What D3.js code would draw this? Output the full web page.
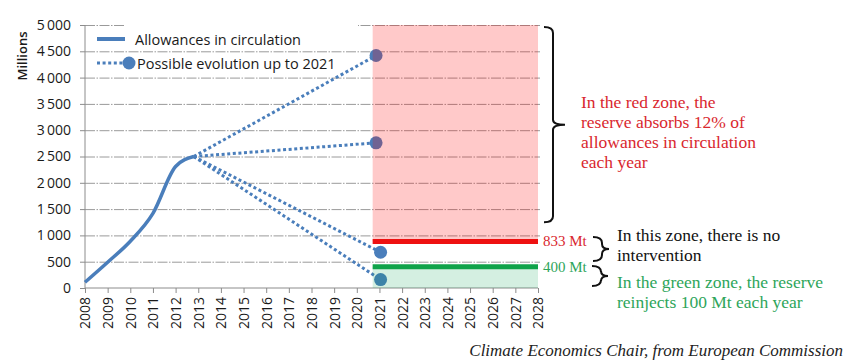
<!DOCTYPE html>
<html>
<head>
<meta charset="utf-8">
<script src="https://cdn.jsdelivr.net/npm/d3@7"></script>
<style>
  body { margin: 0; background: #fff; }
  .axis path, .axis line { stroke: #8c8c8c; }
  .axis text { font-family: "Open Sans", sans-serif; font-size: 14px; fill: #1a1a1a; }
  .grid line { stroke: #9a9a9a; stroke-dasharray: 10,1.5,1.5,1.5; }
  .grid path { display: none; }
  .note { font-family: "Liberation Serif", serif; }
</style>
</head>
<body>
<script>
// data
var years = [2008, 2009, 2010, 2011, 2012, 2012.8];
var allowances = [110, 490, 890, 1420, 2310, 2500];

var evoStart = [2012.8, 2500];
var evoYears = [2020.85, 2020.85, 2021.05, 2021.05];
var evoValues = [4420, 2760, 680, 160];

var yTicks = [0, 500, 1000, 1500, 2000, 2500, 3000, 3500, 4000, 4500, 5000];
var xTicks = d3.range(2008, 2029);

var zoneStart = 2020.7, zoneEnd = 2028;
var redLevel = 885, greenLevel = 405, topLevel = 5000;

var redLines = ["In the red zone, the", "reserve absorbs 12% of", "allowances in circulation", "each year"];
var midLines = ["In this zone, there is no", "intervention"];
var greenLines = ["In the green zone, the reserve", "reinjects 100 Mt each year"];

var margin = {top: 25, right: 312, bottom: 75, left: 85};
var svg = d3.select("body").append("svg")
            .attr("width", 850)
            .attr("height", 363);
var width = svg.attr("width") - margin.left - margin.right,
    height = svg.attr("height") - margin.top - margin.bottom,
    g = svg.append("g").attr("transform", "translate(" + margin.left + "," + margin.top + ")");

var x = d3.scaleLinear().domain([2008, 2028]).range([0, width]),
    y = d3.scaleLinear().domain([0, 5000]).range([height, 0]);

var fmt = function(d) { return d3.format(",")(d).replace(",", "\u2009"); };

// grid
g.append("g")
    .attr("class", "grid")
    .call(d3.axisLeft(y).tickValues(yTicks.slice(1)).tickSize(-width - 2).tickFormat(""));

// white strip behind legend on the top gridline
g.append("rect")
    .attr("x", 40).attr("y", y(5000) - 2)
    .attr("width", 233).attr("height", 4)
    .attr("fill", "#fff");

// axes
g.append("g")
    .attr("class", "axis axis--y")
    .call(d3.axisLeft(y).tickValues(yTicks).tickSize(5).tickPadding(9).tickFormat(fmt))
    .call(function(a) { a.select(".domain").attr("d", "M0," + y(5000) + "V" + y(0)); });

g.append("g")
    .attr("class", "axis axis--x")
    .attr("transform", "translate(0," + height + ")")
    .call(d3.axisBottom(x).tickValues(xTicks).tickSize(5).tickFormat(d3.format("d")))
    .call(function(a) { a.select(".domain").attr("d", "M0,0H" + width); })
  .selectAll("text")
    .attr("transform", "rotate(-90)")
    .attr("text-anchor", "end")
    .attr("x", -9)
    .attr("y", 0)
    .attr("dy", "0.35em");

svg.append("text")
    .attr("transform", "translate(27,56) rotate(-90)")
    .attr("text-anchor", "middle")
    .style("font", "600 13px 'Open Sans', sans-serif")
    .attr("fill", "#1a1a1a")
    .text("Millions");

// main curve
var line = d3.line()
    .curve(d3.curveMonotoneX)
    .x(function(d) { return x(d[0]); })
    .y(function(d) { return y(d[1]); });

g.append("path")
    .datum(d3.zip(years, allowances))
    .attr("fill", "none")
    .attr("stroke", "#4a7ebb")
    .attr("stroke-width", 3.5)
    .attr("d", line);

// possible evolutions
var evo = d3.zip(evoYears, evoValues);
g.selectAll(".evo")
    .data(evo)
    .enter().append("line")
      .attr("class", "evo")
      .attr("x1", x(evoStart[0])).attr("y1", y(evoStart[1]))
      .attr("x2", function(d) { return x(d[0]); })
      .attr("y2", function(d) { return y(d[1]); })
      .attr("stroke", "#4a7ebb")
      .attr("stroke-width", 3)
      .attr("stroke-dasharray", "3,2.6");

g.selectAll(".dot")
    .data(evo)
    .enter().append("circle")
      .attr("class", "dot")
      .attr("cx", function(d) { return x(d[0]); })
      .attr("cy", function(d) { return y(d[1]); })
      .attr("r", 6.5)
      .attr("fill", "#4a7ebb");

// zones (drawn over the data, translucent)
g.append("rect")
    .attr("x", x(zoneStart)).attr("y", y(topLevel))
    .attr("width", x(zoneEnd) - x(zoneStart))
    .attr("height", y(redLevel) - y(topLevel))
    .attr("fill", "#ff0000").attr("fill-opacity", 0.21);

g.append("rect")
    .attr("x", x(zoneStart)).attr("y", y(greenLevel))
    .attr("width", x(zoneEnd) - x(zoneStart))
    .attr("height", y(0) - y(greenLevel))
    .attr("fill", "#00a050").attr("fill-opacity", 0.17);

g.append("line")
    .attr("x1", x(zoneStart)).attr("x2", x(zoneEnd))
    .attr("y1", y(redLevel)).attr("y2", y(redLevel))
    .attr("stroke", "#ee1111").attr("stroke-width", 5);

g.append("line")
    .attr("x1", x(zoneStart)).attr("x2", x(zoneEnd))
    .attr("y1", y(greenLevel)).attr("y2", y(greenLevel))
    .attr("stroke", "#10a34a").attr("stroke-width", 5);

// legend
var lg = svg.append("g").style("font", "14.5px 'Open Sans', sans-serif").attr("fill", "#1a1a1a");
lg.append("line").attr("x1", 97).attr("x2", 125).attr("y1", 39).attr("y2", 39)
    .attr("stroke", "#4a7ebb").attr("stroke-width", 4);
lg.append("text").attr("x", 135).attr("y", 45).text("Allowances in circulation");
lg.append("line").attr("x1", 97).attr("x2", 124).attr("y1", 63).attr("y2", 63)
    .attr("stroke", "#4a7ebb").attr("stroke-width", 3).attr("stroke-dasharray", "3,2.6");
lg.append("circle").attr("cx", 129).attr("cy", 63).attr("r", 6.5).attr("fill", "#4a7ebb");
lg.append("text").attr("x", 137).attr("y", 69).text("Possible evolution up to 2021");

// braces
function brace(x0, top, bottom, tip) {
  var mid = (top + bottom) / 2, xv = x0 + 9;
  return "M" + x0 + "," + top + "Q" + xv + "," + top + " " + xv + "," + (top + 6) +
         "V" + (mid - 5) + "Q" + xv + "," + mid + " " + (xv + tip) + "," + mid +
         "Q" + xv + "," + mid + " " + xv + "," + (mid + 5) +
         "V" + (bottom - 6) + "Q" + xv + "," + bottom + " " + x0 + "," + bottom;
}
var br = svg.append("g").attr("fill", "none").attr("stroke", "#111").attr("stroke-width", 2);
br.append("path").attr("d", brace(544, margin.top + y(4960), margin.top + y(1250), 12));
br.append("path").attr("d", brace(593, 237, 261, 7));
br.append("path").attr("d", brace(592, 266, 286, 7));

// notes
var notes = svg.append("g").attr("class", "note").style("font-size", "17.5px");
notes.selectAll(".red").data(redLines).enter().append("text")
    .attr("x", 581).attr("y", function(d, i) { return 108 + i * 20; })
    .attr("fill", "#d9272e").text(function(d) { return d; });
notes.selectAll(".mid").data(midLines).enter().append("text")
    .attr("x", 617).attr("y", function(d, i) { return 241 + i * 19.5; })
    .attr("fill", "#111").text(function(d) { return d; });
notes.selectAll(".green").data(greenLines).enter().append("text")
    .attr("x", 617).attr("y", function(d, i) { return 288 + i * 20; })
    .attr("fill", "#2ea55a").text(function(d) { return d; });

svg.append("text").attr("class", "note").style("font-size", "15px")
    .attr("x", 543).attr("y", 246).attr("fill", "#d9272e").text("833 Mt");
svg.append("text").attr("class", "note").style("font-size", "15px")
    .attr("x", 543).attr("y", 272).attr("fill", "#2ea55a").text("400 Mt");

svg.append("text").attr("class", "note")
    .style("font-size", "17px").style("font-style", "italic")
    .attr("x", 843).attr("y", 356).attr("text-anchor", "end")
    .attr("fill", "#222")
    .text("Climate Economics Chair, from European Commission");
</script>
</body>
</html>
